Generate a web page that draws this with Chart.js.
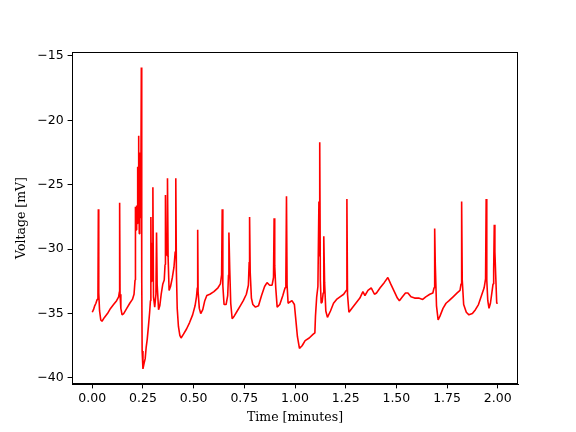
<!DOCTYPE html>
<html>
<head>
<meta charset="utf-8">
<script src="https://cdn.jsdelivr.net/npm/chart.js@4"></script>
<style>
  html, body { margin: 0; padding: 0; background: #fff; }
</style>
</head>
<body>
<canvas id="voltage-chart" width="576" height="432"></canvas>
<script>
// trace, time in minutes / membrane voltage in mV
const timeMinutes = [
    0.000, 0.006, 0.012, 0.018, 0.024, 0.028, 0.030, 0.032, 0.036, 0.042,
    0.048, 0.060, 0.075, 0.090, 0.105, 0.120, 0.130, 0.134, 0.135, 0.137,
    0.141, 0.147, 0.155, 0.170, 0.185, 0.198, 0.206, 0.211, 0.213, 0.216,
    0.219, 0.222, 0.224, 0.226, 0.228, 0.230, 0.232, 0.234, 0.236, 0.238,
    0.240, 0.242, 0.244, 0.246, 0.250, 0.255, 0.261, 0.266, 0.271, 0.277,
    0.283, 0.287, 0.289, 0.291, 0.294, 0.296, 0.299, 0.302, 0.308, 0.314,
    0.317, 0.320, 0.327, 0.333, 0.340, 0.348, 0.355, 0.359, 0.361, 0.364,
    0.367, 0.369, 0.371, 0.374, 0.379, 0.386, 0.395, 0.403, 0.409, 0.412,
    0.415, 0.419, 0.425, 0.432, 0.438, 0.450, 0.465, 0.480, 0.495, 0.507,
    0.514, 0.518, 0.520, 0.522, 0.528, 0.535, 0.545, 0.555, 0.565, 0.580,
    0.600, 0.620, 0.632, 0.638, 0.641, 0.644, 0.650, 0.660, 0.668, 0.672,
    0.674, 0.678, 0.683, 0.690, 0.700, 0.715, 0.730, 0.745, 0.760, 0.770,
    0.774, 0.776, 0.779, 0.785, 0.792, 0.805, 0.820, 0.835, 0.850, 0.862,
    0.875, 0.887, 0.894, 0.897, 0.900, 0.905, 0.912, 0.925, 0.940, 0.951,
    0.955, 0.958, 0.961, 0.966, 0.975, 0.985, 0.997, 1.003, 1.012, 1.022,
    1.035, 1.050, 1.070, 1.090, 1.098, 1.101, 1.107, 1.113, 1.118, 1.120,
    1.122, 1.125, 1.129, 1.134, 1.139, 1.142, 1.146, 1.152, 1.160, 1.175,
    1.190, 1.205, 1.222, 1.240, 1.253, 1.256, 1.259, 1.266, 1.280, 1.300,
    1.320, 1.335, 1.345, 1.360, 1.376, 1.392, 1.402, 1.420, 1.440, 1.458,
    1.472, 1.490, 1.505, 1.515, 1.530, 1.545, 1.557, 1.572, 1.590, 1.610,
    1.630, 1.645, 1.665, 1.680, 1.686, 1.689, 1.692, 1.698, 1.706, 1.715,
    1.730, 1.745, 1.760, 1.780, 1.800, 1.814, 1.819, 1.822, 1.825, 1.832,
    1.845, 1.858, 1.875, 1.890, 1.905, 1.920, 1.933, 1.940, 1.943, 1.946,
    1.951, 1.957, 1.964, 1.971, 1.977, 1.980, 1.983, 1.986, 1.990, 1.995,
    2.000
];
const voltageMv = [
    -34.9, -34.7, -34.4, -34.2, -33.9, -33.6, -26.9, -33.4, -34.8, -35.5,
    -35.6, -35.3, -35.0, -34.6, -34.3, -34.0, -33.7, -33.3, -26.4, -33.5,
    -34.6, -35.1, -35.0, -34.6, -34.2, -33.9, -33.5, -32.4, -26.7, -28.5,
    -26.6, -28.0, -23.6, -27.2, -21.2, -25.4, -28.8, -24.8, -22.5, -25.8,
    -27.6, -15.9, -32.2, -37.9, -39.3, -38.9, -38.5, -37.6, -37.0, -36.0,
    -34.9, -34.0, -27.5, -32.5, -29.5, -30.5, -25.2, -33.7, -34.5, -33.5,
    -28.7, -32.7, -34.7, -34.4, -33.5, -32.7, -32.4, -31.2, -25.8, -30.2,
    -28.8, -30.5, -24.5, -30.6, -33.2, -32.9, -32.2, -31.4, -30.2, -24.5,
    -31.8, -34.6, -36.0, -36.7, -36.9, -36.6, -36.2, -35.7, -35.1, -34.4,
    -33.7, -33.0, -28.5, -33.3, -34.6, -35.0, -34.7, -34.0, -33.6, -33.5,
    -33.3, -33.0, -32.7, -32.0, -26.9, -32.8, -34.3, -34.3, -33.6, -32.0,
    -28.7, -31.5, -34.2, -35.4, -35.2, -34.8, -34.4, -34.0, -33.5, -32.8,
    -31.0, -27.5, -31.8, -33.8, -34.3, -34.5, -34.4, -33.6, -32.9, -32.6,
    -32.8, -32.8, -32.2, -27.6, -31.3, -33.0, -34.5, -34.3, -33.6, -33.0,
    -32.2, -25.9, -32.8, -34.2, -34.1, -34.0, -34.3, -35.3, -36.8, -37.7,
    -37.5, -37.1, -36.9, -36.6, -36.5, -35.2, -33.7, -32.9, -26.3, -30.5,
    -21.7, -32.4, -34.2, -34.1, -33.4, -29.0, -32.6, -34.8, -35.3, -34.8,
    -34.2, -33.9, -33.7, -33.5, -33.2, -26.1, -33.5, -34.9, -34.6, -34.2,
    -33.8, -33.3, -33.6, -33.2, -33.0, -33.5, -33.4, -33.0, -32.6, -32.2,
    -32.7, -33.3, -33.8, -34.0, -33.7, -33.4, -33.4, -33.7, -33.8, -33.8,
    -33.9, -33.7, -33.5, -33.4, -33.0, -28.4, -31.2, -34.4, -35.5, -35.2,
    -34.6, -34.2, -34.0, -33.7, -33.4, -33.2, -32.7, -26.3, -32.4, -34.3,
    -34.9, -35.1, -35.0, -34.7, -34.3, -33.6, -33.0, -32.3, -26.1, -32.4,
    -34.0, -34.6, -34.2, -33.4, -32.7, -31.6, -28.1, -30.2, -32.0, -34.2,
    -34.2
];
const timeTicks = [0, 0.25, 0.5, 0.75, 1, 1.25, 1.5, 1.75, 2];
const voltageTicks = [-40, -35, -30, -25, -20, -15];

const tickFont = { family: 'DejaVu Sans', size: 12.5 };
const labelFont = { family: 'DejaVu Serif', size: 12.5 };

// matplotlib draws a box round the axes, chart.js only the two axis lines
const axesFrame = {
    id: 'axesFrame',
    afterDraw(chart) {
        const { ctx, chartArea } = chart;
        ctx.save();
        ctx.strokeStyle = '#000';
        ctx.lineWidth = 1;
        ctx.strokeRect(chartArea.left + 0.5, chartArea.top + 0.5,
            chartArea.right - chartArea.left - 1, chartArea.bottom - chartArea.top - 1);
        ctx.restore();
    }
};

const points = timeMinutes.map((t, i) => ({ x: t, y: voltageMv[i] }));

new Chart(document.getElementById('voltage-chart'), {
    type: 'line',
    data: {
        datasets: [{
            data: points,
            borderColor: '#ff0000',
            borderWidth: 1.6,
            borderJoinStyle: 'bevel',
            pointRadius: 0,
            tension: 0
        }]
    },
    options: {
        responsive: false,
        animation: false,
        layout: { padding: { top: 52, right: 58, left: 0, bottom: 0 } },
        plugins: {
            legend: { display: false },
            tooltip: { enabled: false }
        },
        scales: {
            x: {
                type: 'linear',
                min: -0.1,
                max: 2.1,
                afterBuildTicks: scale => { scale.ticks = timeTicks.map(v => ({ value: v })); },
                afterFit: scale => { scale.height = 48; },
                grid: { drawOnChartArea: false, tickLength: 4.4, color: '#000' },
                border: { color: '#000', width: 1 },
                ticks: {
                    font: tickFont,
                    color: '#000',
                    padding: 3,
                    maxRotation: 0,
                    autoSkip: false,
                    callback: v => v.toFixed(2)
                },
                title: {
                    display: true,
                    text: 'Time [minutes]',
                    font: labelFont,
                    color: '#000',
                    padding: { top: 0, bottom: 6.5 }
                }
            },
            y: {
                min: -40.47,
                max: -14.69,
                afterBuildTicks: scale => { scale.ticks = voltageTicks.map(v => ({ value: v })); },
                afterFit: scale => { scale.width = 72; },
                grid: { drawOnChartArea: false, tickLength: 4.4, color: '#000' },
                border: { color: '#000', width: 1 },
                ticks: {
                    font: tickFont,
                    color: '#000',
                    padding: 4,
                    callback: v => (v < 0 ? '\u2212' : '') + Math.abs(v)
                },
                title: {
                    display: true,
                    text: 'Voltage [mV]',
                    font: labelFont,
                    color: '#000',
                    padding: { top: 14, bottom: 0 }
                }
            }
        }
    },
    plugins: [axesFrame]
});
</script>
</body>
</html>
